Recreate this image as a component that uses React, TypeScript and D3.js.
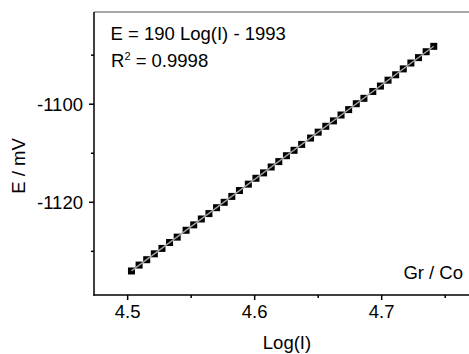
import * as d3 from 'd3';

// Log(I) and potential (mV)
const logI = [
  4.503, 4.509, 4.515, 4.521, 4.527, 4.533, 4.539, 4.546, 4.552, 4.558,
  4.564, 4.570, 4.576, 4.582, 4.588, 4.595, 4.601, 4.607, 4.613, 4.619,
  4.625, 4.631, 4.637, 4.644, 4.650, 4.656, 4.662, 4.668, 4.674, 4.680,
  4.686, 4.693, 4.699, 4.705, 4.711, 4.717, 4.723, 4.729, 4.735, 4.741,
];
const potential = [
  -1134.0, -1132.8, -1131.7, -1130.5, -1129.4, -1128.2, -1127.1, -1125.7, -1124.6, -1123.4,
  -1122.3, -1121.1, -1120.0, -1118.8, -1117.6, -1116.3, -1115.1, -1114.0, -1112.8, -1111.7,
  -1110.5, -1109.4, -1108.2, -1106.9, -1105.7, -1104.5, -1103.4, -1102.2, -1101.1, -1099.9,
  -1098.8, -1097.4, -1096.3, -1095.1, -1094.0, -1092.8, -1091.6, -1090.5, -1089.3, -1088.2,
];
const xMajor = [4.5, 4.6, 4.7];
const xMinor = [4.55, 4.65, 4.75];
const yMajor = [-1100, -1120];
const yMinor = [-1090, -1110, -1130];

const W = 469;
const H = 354;
const FONT = '"Liberation Sans", Arial, sans-serif';
const FS = 18.5;

export default function App() {
  const x = d3.scaleLinear().domain([4.4735, 4.77]).range([94, 470.6]);
  const y = d3.scaleLinear().domain([-1138.9, -1081.2]).range([295, 12]);

  const pts = logI.map((v, i) => ({ x: v, y: potential[i] }));

  // least squares fit for the gray line
  const mx = d3.mean(logI)!;
  const my = d3.mean(potential)!;
  const slope =
    d3.sum(pts, (p) => (p.x - mx) * (p.y - my)) / d3.sum(pts, (p) => (p.x - mx) ** 2);
  const icpt = my - slope * mx;
  const x0 = logI[0];
  const x1 = logI[logI.length - 1];
  const fit = d3
    .line<number>()
    .x((d) => x(d))
    .y((d) => y(slope * d + icpt))([x0, x1]);

  const [left, right] = x.range();
  const [bottom, top] = y.range();

  return (
    <svg
      width={W}
      height={H}
      style={{ position: 'absolute', left: 0, top: 0, background: '#fff' }}
      fontFamily={FONT}
    >
      {/* frame */}
      <line x1={left} x2={right} y1={top} y2={top} stroke="#8c8c8c" strokeWidth={1.5} />
      <line x1={right} x2={right} y1={top} y2={bottom} stroke="#8c8c8c" strokeWidth={1.5} />
      <line x1={left} x2={left} y1={top} y2={bottom + 0.75} stroke="#000" strokeWidth={1.5} />
      <line x1={left - 0.75} x2={right} y1={bottom} y2={bottom} stroke="#000" strokeWidth={1.5} />

      {/* x ticks */}
      {xMajor.map((t) => (
        <g key={'xM' + t}>
          <line x1={x(t)} x2={x(t)} y1={bottom} y2={bottom + 5} stroke="#000" strokeWidth={1.5} />
          <text x={x(t)} y={318} fontSize={FS} textAnchor="middle">
            {t.toFixed(1)}
          </text>
        </g>
      ))}
      {xMinor.map((t) => (
        <line key={'xm' + t} x1={x(t)} x2={x(t)} y1={bottom} y2={bottom + 3} stroke="#000" strokeWidth={1.5} />
      ))}

      {/* y ticks */}
      {yMajor.map((t) => (
        <g key={'yM' + t}>
          <line x1={left - 5} x2={left} y1={y(t)} y2={y(t)} stroke="#000" strokeWidth={1.5} />
          <text x={83} y={y(t) + 6.5} fontSize={FS} textAnchor="end">
            {t}
          </text>
        </g>
      ))}
      {yMinor.map((t) => (
        <line key={'ym' + t} x1={left - 3} x2={left} y1={y(t)} y2={y(t)} stroke="#000" strokeWidth={1.5} />
      ))}

      {/* data */}
      {pts.map((p, i) => (
        <rect key={i} x={x(p.x) - 3.5} y={y(p.y) - 3.5} width={7} height={7} fill="#000" />
      ))}
      <path d={fit ?? ''} stroke="#a0a0a0" strokeWidth={1.5} fill="none" />

      {/* annotations */}
      <text x={110.5} y={40} fontSize={FS}>
        E = 190 Log(I) - 1993
      </text>
      <text x={111} y={66.5} fontSize={FS}>
        R<tspan dy={-7} fontSize={11}>2</tspan>
        <tspan dy={7}> = 0.9998</tspan>
      </text>
      <text x={463} y={279} fontSize={FS} textAnchor="end">
        Gr / Co
      </text>

      {/* axis titles */}
      <text x={287} y={349} fontSize={FS} textAnchor="middle">
        Log(I)
      </text>
      <text transform="translate(25,166) rotate(-90)" fontSize={FS} textAnchor="middle">
        E / mV
      </text>
    </svg>
  );
}
